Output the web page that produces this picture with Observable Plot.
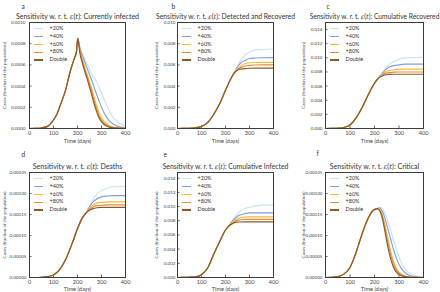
<!DOCTYPE html>
<html><head><meta charset="utf-8">
<script src="https://cdn.jsdelivr.net/npm/d3@7"></script>
<script src="https://cdn.jsdelivr.net/npm/@observablehq/plot@0.6"></script>
<style>
body{margin:0;background:#fff;}
#root{position:relative;width:440px;height:292px;overflow:hidden;font-family:Lato,"DejaVu Sans",sans-serif;}
#root svg{position:absolute;overflow:visible;}
.lg-line{position:absolute;height:1.2px;}
.lg-text{position:absolute;font-size:5.5px;line-height:1;color:#333;white-space:nowrap;}
</style></head><body><div id="root"></div>
<script>
// ---- shared ----
const seriesNames = ["+20%", "+40%", "+60%", "+80%", "Double"];
const seriesColors = ["#c9e3f3", "#7f9fe0", "#f9b73d", "#e68b38", "#8b5a2b"];
const xTicks = [0, 100, 200, 300, 400];

// ---- panel a: Currently infected ----
const aRiseDays = [0, 25, 50, 75, 100, 115, 130, 150, 170, 185, 196, 201];
const aRise = [0, 0.000001, 0.000005, 0.00002, 0.00008, 0.00014, 0.00023, 0.00036, 0.00054, 0.00065, 0.00073, 0.00085];
const aTailDays = [205, 210, 220, 230, 240, 250, 260, 275, 290, 310, 330, 350, 375, 400];
const aTail20 = [0.00082, 0.00077, 0.00071, 0.00066, 0.00061, 0.00056, 0.00051, 0.00046, 0.00039, 0.00028, 0.00018, 0.0001, 0.00005, 0.00002];
const aTail40 = [0.00082, 0.00076, 0.00069, 0.00063, 0.00057, 0.00051, 0.00045, 0.00035, 0.00026, 0.00015, 0.00008, 0.00004, 0.000015, 0.000005];
const aTail60 = [0.00081, 0.00074, 0.00066, 0.00058, 0.00051, 0.00044, 0.00037, 0.00025, 0.00015, 0.00007, 0.00003, 0.000012, 0.000004, 0.000002];
const aTail80 = [0.00081, 0.00073, 0.00064, 0.00056, 0.00049, 0.00042, 0.00034, 0.00022, 0.00012, 0.00005, 0.00002, 0.000008, 0.000003, 0.000001];
const aTailDouble = [0.0008, 0.00071, 0.00062, 0.00054, 0.00047, 0.00039, 0.00031, 0.00019, 0.0001, 0.00004, 0.000015, 0.000006, 0.000002, 0.000001];
const aYTicks = [0, 0.0002, 0.0004, 0.0006, 0.0008, 0.001];

// ---- panel b: Detected and Recovered ----
const bRiseDays = [0, 25, 50, 75, 100, 125, 150, 175, 200, 220, 235];
const bRise = [0, 0.000005, 0.00002, 0.00007, 0.0002, 0.00055, 0.0013, 0.0023, 0.0036, 0.0046, 0.0052];
const bTailDays = [250, 265, 280, 300, 325, 350, 400];
const bTail20 = [0.0059, 0.0065, 0.0069, 0.0072, 0.0074, 0.00745, 0.0075];
const bTail40 = [0.0058, 0.0062, 0.0064, 0.0066, 0.00665, 0.00667, 0.00668];
const bTail60 = [0.0056, 0.0059, 0.0061, 0.0062, 0.00623, 0.00624, 0.00624];
const bTail80 = [0.00555, 0.00575, 0.00588, 0.00596, 0.00599, 0.006, 0.006];
const bTailDouble = [0.0055, 0.0056, 0.00565, 0.00568, 0.00569, 0.00569, 0.00569];
const bYTicks = [0, 0.002, 0.004, 0.006, 0.008, 0.01];

// ---- panel c: Cumulative Recovered ----
const cRiseDays = [0, 25, 50, 75, 100, 125, 150, 175, 200, 215];
const cRise = [0, 0.00001, 0.00004, 0.00015, 0.0005, 0.0015, 0.003, 0.0048, 0.0064, 0.0071];
const cTailDays = [230, 245, 260, 280, 300, 325, 350, 400];
const cTail20 = [0.0078, 0.0085, 0.0091, 0.0095, 0.0098, 0.01, 0.01005, 0.01007];
const cTail40 = [0.0077, 0.0083, 0.0087, 0.0089, 0.009, 0.0091, 0.0091, 0.00912];
const cTail60 = [0.0076, 0.008, 0.0082, 0.0083, 0.0084, 0.0084, 0.0084, 0.0084];
const cTail80 = [0.0075, 0.0078, 0.0079, 0.00798, 0.008, 0.008, 0.008, 0.008];
const cTailDouble = [0.0074, 0.0076, 0.00765, 0.00768, 0.00768, 0.00768, 0.00768, 0.00768];
const cYTicks = [0, 0.002, 0.004, 0.006, 0.008, 0.01, 0.012, 0.014];

// ---- panel d: Deaths ----
const dRiseDays = [0, 25, 50, 75, 100, 125, 150, 175, 200, 220, 235];
const dRise = [0, 0, 0.0000005, 0.000002, 0.000006, 0.000018, 0.000042, 0.000077, 0.000116, 0.000142, 0.000153];
const dTailDays = [250, 265, 280, 300, 325, 350, 400];
const dTail20 = [0.000171, 0.000187, 0.000198, 0.000207, 0.000213, 0.000216, 0.000217];
const dTail40 = [0.000168, 0.00018, 0.000187, 0.000192, 0.000194, 0.000195, 0.000195];
const dTail60 = [0.000164, 0.000172, 0.000177, 0.000179, 0.00018, 0.00018, 0.00018];
const dTail80 = [0.000162, 0.000168, 0.000171, 0.000172, 0.000173, 0.000173, 0.000173];
const dTailDouble = [0.00016, 0.000164, 0.000166, 0.000167, 0.000167, 0.000167, 0.000167];
const dYTicks = [0, 0.00005, 0.0001, 0.00015, 0.0002, 0.00025];

// ---- panel e: Cumulative Infected ----
const eRiseDays = [0, 25, 50, 75, 100, 125, 150, 175, 200, 215];
const eRise = [0, 0.00001, 0.00005, 0.0001, 0.0004, 0.0013, 0.0032, 0.005, 0.0067, 0.0073];
const eTailDays = [230, 245, 260, 280, 300, 325, 350, 400];
const eTail20 = [0.0081, 0.0088, 0.0093, 0.0097, 0.0099, 0.0101, 0.0102, 0.0102];
const eTail40 = [0.008, 0.0085, 0.0088, 0.009, 0.0091, 0.0091, 0.0091, 0.0091];
const eTail60 = [0.0078, 0.0082, 0.0084, 0.0085, 0.00854, 0.00855, 0.00855, 0.00855];
const eTail80 = [0.0077, 0.008, 0.0081, 0.0082, 0.0082, 0.0082, 0.0082, 0.0082];
const eTailDouble = [0.0076, 0.0078, 0.00782, 0.00783, 0.00783, 0.00783, 0.00783, 0.00783];
const eYTicks = [0, 0.002, 0.004, 0.006, 0.008, 0.01, 0.012, 0.014];

// ---- panel f: Critical ----
const fRiseDays = [0, 25, 50, 75, 100, 125, 150, 175, 195, 212];
const fRise = [0, 0.0000005, 0.000002, 0.000008, 0.000024, 0.00006, 0.000105, 0.000142, 0.00016, 0.000164];
const fTailDays = [220, 230, 240, 250, 260, 275, 290, 310, 330, 350, 375, 400];
const fTail20 = [0.000167, 0.000165, 0.000156, 0.000142, 0.000124, 0.000094, 0.000065, 0.000035, 0.000017, 0.000008, 0.000003, 0.000001];
const fTail40 = [0.000166, 0.00016, 0.000146, 0.000126, 0.000104, 0.000072, 0.000045, 0.000021, 0.000009, 0.0000035, 0.000001, 0.0000003];
const fTail60 = [0.000163, 0.000153, 0.000132, 0.000105, 0.000077, 0.000043, 0.000021, 0.000008, 0.000003, 0.000001, 0.0000003, 0.0000001];
const fTail80 = [0.000162, 0.00015, 0.000126, 0.000097, 0.000069, 0.000036, 0.000017, 0.000006, 0.000002, 0.0000007, 0.0000002, 0];
const fTailDouble = [0.00016, 0.000145, 0.000118, 0.000086, 0.000058, 0.000028, 0.000012, 0.000004, 0.0000012, 0.0000004, 0.0000001, 0];
const fYTicks = [0, 0.00005, 0.0001, 0.00015, 0.0002, 0.00025];

const titles = {
  a: "Sensitivity w. r. t. ε(t): Currently infected",
  b: "Sensitivity w. r. t. ε(t): Detected and Recovered",
  c: "Sensitivity w. r. t. ε(t): Cumulative Recovered",
  d: "Sensitivity w. r. t. ε(t): Deaths",
  e: "Sensitivity w. r. t. ε(t): Cumulative Infected",
  f: "Sensitivity w. r. t. ε(t): Critical"
};

function buildRows(riseDays, rise, tailDays, tails) {
  const rows = [];
  tails.forEach((tail, i) => {
    riseDays.forEach((d, j) => rows.push({day: d, value: rise[j], series: seriesNames[i]}));
    tailDays.forEach((d, j) => rows.push({day: d, value: tail[j], series: seriesNames[i]}));
  });
  return rows;
}

const panels = [
  {id: "a", rows: buildRows(aRiseDays, aRise, aTailDays, [aTail20, aTail40, aTail60, aTail80, aTailDouble]), yDomain: [0, 0.001], yTicks: aYTicks, fmt: ".4f",
   left: 0, top: 0, w: 145, h: 146, mL: 29, mR: 20, mT: 22, mB: 18, yPad: 4, yLab: 27, xLab: 14.5, ldx: -8, ldy: -18, tw: 127},
  {id: "b", rows: buildRows(bRiseDays, bRise, bTailDays, [bTail20, bTail40, bTail60, bTail80, bTailDouble]), yDomain: [0, 0.01], yTicks: bYTicks, fmt: ".3f",
   left: 145, top: 0, w: 145, h: 146, mL: 32, mR: 17, mT: 22, mB: 18, yPad: 2, yLab: 23, xLab: 14.5, ldx: -6, ldy: -18, tw: 139},
  {id: "c", rows: buildRows(cRiseDays, cRise, cTailDays, [cTail20, cTail40, cTail60, cTail80, cTailDouble]), yDomain: [0, 0.015], yTicks: cYTicks, fmt: ".3f",
   left: 290, top: 0, w: 150, h: 146, mL: 35, mR: 17, mT: 22, mB: 18, yPad: 3, yLab: 24, xLab: 14.5, ldx: 1, ldy: -18, tw: 130},
  {id: "d", rows: buildRows(dRiseDays, dRise, dTailDays, [dTail20, dTail40, dTail60, dTail80, dTailDouble]), yDomain: [0, 0.00025], yTicks: dYTicks, fmt: ".5f",
   left: 0, top: 146, w: 145, h: 146, mL: 29, mR: 20, mT: 26, mB: 15, yPad: 3, yLab: 27, xLab: 13, ldx: -8, ldy: -20, tw: 92},
  {id: "e", rows: buildRows(eRiseDays, eRise, eTailDays, [eTail20, eTail40, eTail60, eTail80, eTailDouble]), yDomain: [0, 0.0148], yTicks: eYTicks, fmt: ".3f",
   left: 145, top: 146, w: 145, h: 146, mL: 32, mR: 17, mT: 26, mB: 15, yPad: 2, yLab: 23, xLab: 13, ldx: -14, ldy: -20, tw: 126},
  {id: "f", rows: buildRows(fRiseDays, fRise, fTailDays, [fTail20, fTail40, fTail60, fTail80, fTailDouble]), yDomain: [0, 0.00025], yTicks: fYTicks, fmt: ".5f",
   left: 290, top: 146, w: 150, h: 146, mL: 35, mR: 17, mT: 26, mB: 15, yPad: 3, yLab: 24, xLab: 13, ldx: -9, ldy: -21, tw: 99}
];

const root = document.getElementById("root");
const frameColor = "#3d3d3d";

for (const p of panels) {
  const plotW = p.w - p.mL - p.mR;
  const plotH = p.h - p.mT - p.mB;
  const svg = Plot.plot({
    width: p.w, height: p.h,
    marginLeft: p.mL, marginRight: p.mR, marginTop: p.mT, marginBottom: p.mB,
    style: {fontFamily: "Lato, 'DejaVu Sans', sans-serif", fontSize: "4.6px", color: "#444", background: "transparent"},
    x: {domain: [0, 400]},
    y: {domain: p.yDomain},
    color: {domain: seriesNames, range: seriesColors},
    marks: [
      Plot.axisX(xTicks, {tickSize: 0, tickPadding: 2.5, label: "Time (days)", labelAnchor: "center", labelOffset: p.xLab, labelArrow: "none", fontSize: 5.6, fill: "#444"}),
      Plot.axisY(p.yTicks, {tickSize: 0, tickPadding: p.yPad, tickFormat: d3.format(p.fmt), label: "Cases (fraction of the population)", labelAnchor: "center", labelOffset: p.yLab, labelArrow: "none", fill: "#444"}),
      Plot.tickX(xTicks, {x: d => d, insetTop: plotH - 2.5, stroke: frameColor, strokeWidth: 0.8}),
      Plot.tickY(p.yTicks, {y: d => d, insetRight: plotW - 2.5, stroke: frameColor, strokeWidth: 0.8}),
      Plot.line(p.rows, {x: "day", y: "value", z: "series", stroke: "series", curve: "monotone-x", strokeWidth: 1.15}),
      Plot.frame({stroke: frameColor, strokeWidth: 1}),
      Plot.text([titles[p.id]], {frameAnchor: "top", dy: -8.5, fontSize: 6.6, fill: "#333"}),
      Plot.text([p.id], {frameAnchor: "top-left", dx: p.ldx, dy: p.ldy, fontSize: 6.6, fill: "#333", textAnchor: "start"})
    ]
  });
  svg.style.left = p.left + "px";
  svg.style.top = p.top + "px";
  root.appendChild(svg);
  // italicize epsilon and t in the title, and size the title to the reference width
  d3.select(svg).selectAll("text").each(function () {
    const el = this;
    if (el.textContent.includes("ε(t)")) {
      const parts = el.textContent.split("ε(t)");
      while (el.firstChild) el.removeChild(el.firstChild);
      const s = d3.select(el);
      s.append("tspan").text(parts[0]);
      s.append("tspan").attr("font-style", "italic").attr("font-family", "'DejaVu Serif', serif").text("ε");
      s.append("tspan").text("(");
      s.append("tspan").attr("font-style", "italic").attr("font-family", "'DejaVu Serif', serif").text("t");
      s.append("tspan").text(")" + parts[1]);
      const len = el.getComputedTextLength();
      if (len > 0) {
        const fs = Math.min(7.0, 6.6 * p.tw / len);
        el.setAttribute("font-size", fs);
      }
    }
  });

  // legend (upper left inside frame)
  const fx = p.left + p.mL, fy = p.top + p.mT;
  seriesNames.forEach((name, i) => {
    const cy = fy + 6.8 + 7.8 * i;
    const ln = document.createElement("div");
    ln.className = "lg-line";
    ln.style.left = (fx + 4.5) + "px";
    ln.style.width = "9.5px";
    ln.style.top = (cy - 0.6) + "px";
    ln.style.background = seriesColors[i];
    root.appendChild(ln);
    const tx = document.createElement("div");
    tx.className = "lg-text";
    tx.style.left = (fx + 20.5) + "px";
    tx.style.top = (cy - 2.9) + "px";
    tx.textContent = name;
    root.appendChild(tx);
  });
}
</script>
</body></html>
